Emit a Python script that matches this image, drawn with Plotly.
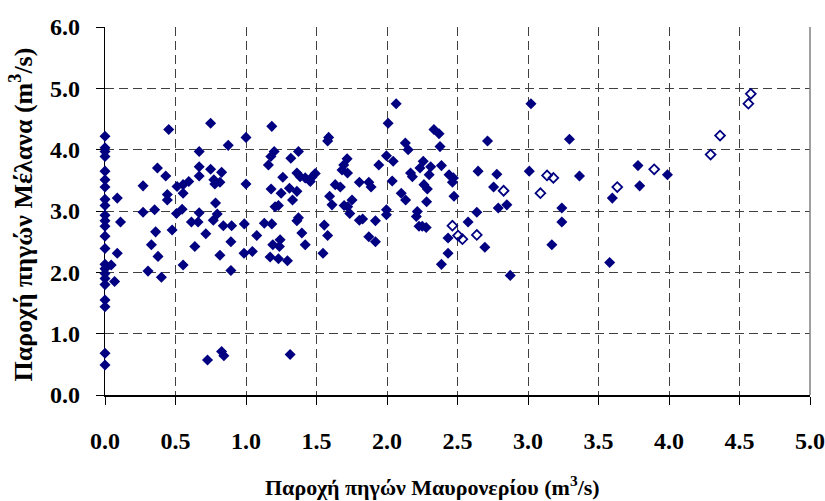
import plotly.graph_objects as go

# Paired daily discharges (m3/s): Mavroneri springs (x) vs Melana springs (y)
mavroneri = [
    0.0, 0.0, 0.0, 0.0, 0.0, 0.0, 0.0, 0.0, 0.0, 0.0, 0.0, 0.0,
    0.0, 0.0, 0.0, 0.0, 0.0, 0.0, 0.0, 0.0, 0.0, 0.0, 0.0,
    0.087, 0.11, 0.087, 0.044, 0.068,
    0.27, 0.27, 0.305, 0.329, 0.352, 0.359, 0.372, 0.376, 0.40, 0.431,
    0.442, 0.442, 0.452, 0.476, 0.507, 0.511, 0.547, 0.554, 0.554, 0.554,
    0.594, 0.613, 0.637, 0.66, 0.668, 0.668, 0.668, 0.668, 0.715, 0.727,
    0.749, 0.749, 0.772, 0.779, 0.784, 0.796, 0.768, 0.815, 0.815, 0.827,
    0.827, 0.843, 0.839, 0.874, 0.893, 0.893, 0.898, 0.986, 0.988, 1.0,
    1.0, 1.045, 1.076,
    1.13, 1.159, 1.171, 1.176, 1.178, 1.183, 1.183, 1.19, 1.2, 1.206,
    1.23, 1.23, 1.237, 1.242, 1.249, 1.261, 1.294, 1.308, 1.313, 1.318,
    1.33, 1.361, 1.361, 1.361, 1.372, 1.372, 1.384, 1.396, 1.42, 1.42,
    1.456, 1.467, 1.491, 1.546, 1.555, 1.579, 1.586, 1.579, 1.593, 1.61,
    1.633, 1.669, 1.681, 1.693, 1.696, 1.717, 1.72, 1.721, 1.736, 1.752,
    1.804, 1.804, 1.827, 1.871, 1.871, 1.887, 1.918, 1.918, 1.942, 1.996,
    1.996, 1.996, 2.008, 2.037, 2.044, 2.065, 2.101, 2.13, 2.132, 2.15,
    2.167, 2.18, 2.208, 2.215, 2.227, 2.25, 2.234, 2.257, 2.262, 2.278,
    2.281, 2.286, 2.299, 2.31, 2.333, 2.369, 2.376, 2.386, 2.386, 2.433,
    2.433, 2.44, 2.464, 2.471, 2.475, 2.575, 2.637, 2.646, 2.694, 2.713,
    2.756, 2.779, 2.789, 2.85, 2.874, 3.009, 3.021, 3.169, 3.24, 3.24,
    3.294, 3.365, 3.579, 3.598, 3.78, 3.792, 3.989,
]
melana = [
    4.22, 4.03, 3.97, 3.89, 3.65, 3.51, 3.39, 3.19, 3.09, 2.93, 2.84, 2.75,
    2.59, 2.39, 2.13, 2.06, 1.98, 1.90, 1.80, 1.55, 1.44, 0.68, 0.49,
    3.21, 2.82, 2.31, 2.12, 1.85,
    3.41, 2.98, 2.02, 2.45, 3.02, 2.66, 3.70, 2.26, 1.92, 3.57,
    3.27, 3.18, 4.33, 2.69, 2.96, 3.40, 3.03, 3.43, 3.29, 2.12,
    3.48, 2.82, 2.42, 2.82, 3.97, 3.72, 3.57, 2.97, 2.63, 0.57,
    4.43, 3.68, 3.51, 3.44, 3.13, 2.95, 2.85, 3.47, 2.28, 3.63,
    0.71, 0.64, 2.76, 4.07, 2.50, 2.03, 2.76, 2.31, 2.79, 4.20,
    3.44, 2.34, 2.60,
    2.80, 3.75, 2.25, 3.89, 3.36, 4.38, 2.79, 2.45, 3.97, 3.07,
    3.09, 2.22, 2.42, 2.53, 3.29, 3.55, 2.19, 3.37, 0.66, 3.86,
    3.18, 3.62, 3.32, 2.84, 3.97, 2.89, 3.56, 2.64, 3.54, 2.45,
    3.48, 3.55, 3.61, 2.31, 2.77, 4.14, 4.20, 2.60, 3.24, 3.10,
    3.43, 3.39, 3.67, 3.75, 3.09, 3.85, 3.62, 3.07, 2.96, 3.18,
    3.47, 2.85, 2.87, 3.47, 2.58, 3.39, 2.84, 2.50, 3.75, 3.90,
    3.02, 2.94, 4.43, 3.49, 3.81, 4.75, 3.29, 4.11, 3.18, 4.00,
    3.62, 3.56, 2.91, 2.99, 2.75, 2.75, 3.70, 3.81, 3.43, 2.73,
    3.15, 3.36, 3.59, 3.72, 4.33, 4.26, 4.05, 3.74, 2.13, 2.56,
    2.31, 3.59, 3.47, 3.54, 3.24, 2.82, 2.98, 3.65, 2.41, 4.14,
    3.39, 3.60, 3.05, 3.10, 1.95, 3.65, 4.75, 2.45, 3.05, 2.82,
    4.17, 3.57, 2.16, 3.21, 3.74, 3.41, 3.59,
]

# Second group of days, shown with open markers
mavroneri_open = [2.464, 2.504, 2.535, 2.637, 2.827, 3.088, 3.135, 3.18,
                  3.633, 3.895, 4.295, 4.362, 4.563, 4.58]
melana_open = [2.76, 2.60, 2.54, 2.61, 3.33, 3.29, 3.58, 3.54,
               3.39, 3.68, 3.92, 4.23, 4.75, 4.91]

x_ticks = [0.0, 0.5, 1.0, 1.5, 2.0, 2.5, 3.0, 3.5, 4.0, 4.5, 5.0]
y_ticks = [0.0, 1.0, 2.0, 3.0, 4.0, 5.0, 6.0]

NAVY = "#000080"
FONT = "Liberation Serif"

fig = go.Figure()
fig.add_trace(go.Scatter(
    x=mavroneri, y=melana, mode="markers", cliponaxis=False,
    marker=dict(symbol="diamond", size=8.5, color=NAVY, line=dict(width=0)),
    showlegend=False,
))
fig.add_trace(go.Scatter(
    x=mavroneri_open, y=melana_open, mode="markers", cliponaxis=False,
    marker=dict(symbol="diamond-open", size=7.5, color=NAVY,
                line=dict(width=1.8, color=NAVY)),
    showlegend=False,
))

grid = dict(showgrid=True, gridcolor="#404040", gridwidth=1, griddash="9px,5px")

fig.update_xaxes(
    range=[0, 5], tickvals=x_ticks, ticktext=[f"{v:.1f}" for v in x_ticks],
    showline=True, linecolor="#000000", linewidth=1.5, automargin=False,
    ticks="outside", ticklen=8, tickcolor="#000000", tickwidth=1,
    ticklabelstandoff=15, zeroline=False, layer="below traces",
    tickfont=dict(family=FONT, size=24, color="#000000", weight="bold"),
    **grid,
)
fig.update_yaxes(
    range=[0, 6], tickvals=y_ticks, ticktext=[f"{v:.1f}" for v in y_ticks],
    showline=True, linecolor="#000000", linewidth=1.2, automargin=False,
    ticks="outside", ticklen=8, tickcolor="#000000", tickwidth=1,
    ticklabelstandoff=11, zeroline=False, layer="below traces",
    tickfont=dict(family=FONT, size=24, color="#000000", weight="bold"),
    **grid,
)

# right edge of the plotting area
fig.add_shape(type="line", xref="paper", yref="paper", x0=1, x1=1, y0=0, y1=1,
              line=dict(color="#808080", width=1.5))

fig.add_annotation(
    text="Παροχή πηγών Μαυρονερίου (m<sup>3</sup>/s)",
    xref="paper", yref="paper", x=0.465, y=-0.247, yanchor="middle",
    showarrow=False, font=dict(family=FONT, size=22, color="#000000", weight="bold"),
)
fig.add_annotation(
    text="Παροχή πηγών Μέλανα (m<sup>3</sup>/s)",
    xref="paper", yref="paper", x=-0.118, y=0.49, textangle=-90,
    xanchor="center", yanchor="middle",
    showarrow=False, font=dict(family=FONT, size=26, color="#000000", weight="bold"),
)

fig.update_layout(
    width=825, height=501,
    margin=dict(l=105, r=15, t=27, b=106),
    paper_bgcolor="#ffffff", plot_bgcolor="#ffffff",
)

fig.write_html("out.html")
